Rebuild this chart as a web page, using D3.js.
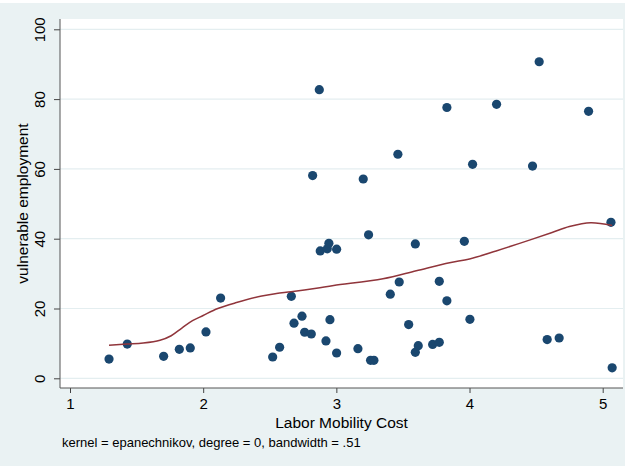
<!DOCTYPE html>
<html>
<head>
<meta charset="utf-8">
<script src="https://cdn.jsdelivr.net/npm/d3@7"></script>
<style>
  body { margin: 0; background: #fff; }
  text { font-family: "Liberation Sans", Arial, Helvetica, sans-serif; }
</style>
</head>
<body>
<svg id="chart"></svg>
<script>
// scatter: labor mobility cost vs vulnerable employment
const costX = [1.293, 1.43, 1.703, 1.821, 1.903, 2.021, 2.131, 2.522, 2.574, 2.662,
  2.682, 2.742, 2.762, 2.812, 2.822, 2.872, 2.879, 2.922, 2.932, 2.944,
  2.952, 3.002, 3.002, 3.162, 3.202, 3.242, 3.257, 3.282, 3.405, 3.462,
  3.472, 3.543, 3.593, 3.593, 3.615, 3.723, 3.773, 3.773, 3.83, 3.83,
  3.961, 4.003, 4.023, 4.203, 4.473, 4.523, 4.583, 4.673, 4.894, 5.062, 5.071];
const vulnY = [5.5, 9.8, 6.3, 8.3, 8.7, 13.3, 23.0, 6.1, 8.9, 23.5,
  15.8, 17.8, 13.2, 12.7, 58.1, 82.7, 36.5, 10.7, 37.1, 38.7,
  16.8, 37.0, 7.25, 8.5, 57.1, 41.1, 5.15, 5.15, 24.1, 64.2,
  27.6, 15.4, 38.5, 7.45, 9.35, 9.7, 10.3, 27.8, 22.2, 77.6,
  39.25, 16.9, 61.3, 78.5, 60.8, 90.7, 11.1, 11.55, 76.5, 44.7, 3.0];

// smoothed line
const fitX = [1.293, 1.43, 1.55, 1.676, 1.76, 1.84, 1.92, 2.0, 2.11, 2.25,
  2.44, 2.55, 2.66, 2.85, 2.98, 3.35, 3.60, 3.85, 4.0, 4.2,
  4.45, 4.62, 4.75, 4.91, 5.071];
const fitY = [9.5, 9.8, 10.1, 10.9, 12.2, 14.4, 16.5, 18.0, 20.0, 21.7,
  23.6, 24.3, 24.8, 25.8, 26.6, 28.5, 30.8, 33.1, 34.2, 36.5,
  39.6, 41.8, 43.5, 44.6, 43.8];

const xTicks = [1, 2, 3, 4, 5];
const yTicks = [0, 20, 40, 60, 80, 100];

const svgWidth = 635, svgHeight = 466;
const plot = {left: 60, top: 19, right: 623, bottom: 388};

const svg = d3.select('#chart')
    .attr("width", svgWidth)
    .attr("height", svgHeight);

// graph region + plot region
svg.append("rect")
  .attr("x", 0).attr("y", 3)
  .attr("width", 625).attr("height", svgHeight - 3)
  .attr("fill", "#eaf2f3");
svg.append("rect")
  .attr("x", plot.left).attr("y", plot.top)
  .attr("width", plot.right - plot.left).attr("height", plot.bottom - plot.top)
  .attr("fill", "#fff");

const x = d3.scaleLinear().domain([1, 5]).range([70, 602.7]);
const y = d3.scaleLinear().domain([0, 100]).range([378.3, 29.3]);

// grid
svg.append("g")
  .selectAll("line")
  .data(yTicks)
  .enter()
  .append("line")
    .attr("x1", plot.left).attr("x2", plot.right)
    .attr("y1", d => y(d)).attr("y2", d => y(d))
    .attr("stroke", "#e4eef0")
    .attr("stroke-width", 1.2);

// axes
const yAxis = svg.append("g")
  .attr("transform", "translate(" + plot.left + ",0)")
  .call(d3.axisLeft(y).tickValues(yTicks).tickFormat(d3.format("d")).tickSize(6).tickSizeOuter(0));
yAxis.select(".domain").remove();
yAxis.selectAll(".tick line").attr("stroke", "#444");
yAxis.selectAll(".tick text")
  .attr("transform", "rotate(-90)")
  .attr("x", 0).attr("y", -15).attr("dy", 0)
  .style("text-anchor", "middle")
  .style("font-size", "15px")
  .attr("fill", "#000");

const xAxis = svg.append("g")
  .attr("transform", "translate(0," + plot.bottom + ")")
  .call(d3.axisBottom(x).tickValues(xTicks).tickFormat(d3.format("d")).tickSize(5).tickSizeOuter(0));
xAxis.select(".domain").remove();
xAxis.selectAll(".tick line").attr("stroke", "#444");
xAxis.selectAll(".tick text")
  .attr("y", 21).attr("dy", 0)
  .style("font-size", "15px")
  .attr("fill", "#000");

svg.append("line")
  .attr("x1", plot.left).attr("x2", plot.left)
  .attr("y1", plot.top).attr("y2", plot.bottom)
  .attr("stroke", "#555");
svg.append("line")
  .attr("x1", plot.left).attr("x2", plot.right)
  .attr("y1", plot.bottom).attr("y2", plot.bottom)
  .attr("stroke", "#555");

// titles
svg.append("text")
  .attr("transform", "translate(28," + ((plot.top + plot.bottom) / 2) + ") rotate(-90)")
  .style("text-anchor", "middle")
  .style("font-size", "15.5px")
  .text("vulnerable employment");

svg.append("text")
  .attr("x", (plot.left + plot.right) / 2)
  .attr("y", 428)
  .style("text-anchor", "middle")
  .style("font-size", "15.5px")
  .text("Labor Mobility Cost");

svg.append("text")
  .attr("x", 62)
  .attr("y", 447)
  .style("font-size", "13px")
  .text("kernel = epanechnikov, degree = 0, bandwidth = .51");

// dots
svg.append("g")
  .selectAll("circle")
  .data(costX)
  .enter()
  .append("circle")
    .attr("cx", d => x(d))
    .attr("cy", (d, i) => y(vulnY[i]))
    .attr("r", 4.6)
    .attr("fill", "#1a476f");

// fitted line
const line = d3.line()
  .x(d => x(d[0]))
  .y(d => y(d[1]))
  .curve(d3.curveCatmullRom.alpha(0.5));

svg.append("path")
  .datum(d3.zip(fitX, fitY))
  .attr("d", line)
  .attr("fill", "none")
  .attr("stroke", "#90353b")
  .attr("stroke-width", 1.5);
</script>
</body>
</html>
